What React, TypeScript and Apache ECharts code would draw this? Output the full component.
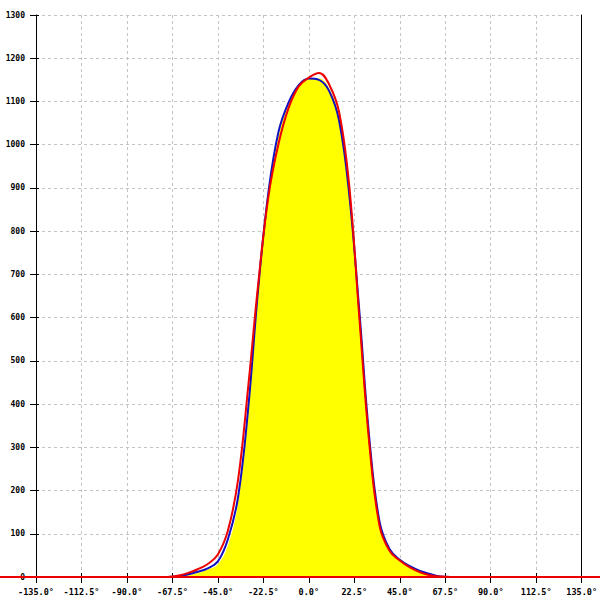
import React, { useEffect, useRef } from "react";
import * as echarts from "echarts";

const angles = [-70, -65, -60, -55, -50, -45, -40, -35, -30, -25, -20, -15, -10, -5, 0, 5, 10, 15, 20, 25, 30, 35, 40, 45, 50, 55, 60, 65, 70];
const yellowValues = [0, 0, 3, 8, 16, 28, 70, 165, 370, 650, 870, 1015, 1090, 1132, 1150, 1152, 1128, 1060, 885, 600, 300, 118, 58, 36, 20, 10, 3, 0, 0];
const blueValues = [0, 2, 6, 12, 20, 36, 88, 185, 390, 670, 890, 1030, 1098, 1138, 1153, 1150, 1125, 1055, 885, 615, 318, 128, 64, 40, 25, 14, 7, 1, 0];
const redValues = [0, 3, 9, 18, 30, 52, 108, 225, 440, 680, 880, 1002, 1085, 1135, 1155, 1166, 1140, 1075, 905, 600, 305, 118, 60, 38, 22, 11, 4, 1, 0];
const baselineX = [-1, 1];
const baselineY = [0, 0];

const xMin = -135;
const xMax = 135;
const xStep = 22.5;
const yMin = 0;
const yMax = 1300;
const yStep = 100;

const pair = (xs: number[], ys: number[]) => xs.map((x, i) => [x, ys[i]]);

export default function App() {
  const ref = useRef<HTMLDivElement>(null);
  useEffect(() => {
    if (!ref.current) return;
    const chart = echarts.init(ref.current, null, { renderer: "svg" });
    const font = { fontFamily: "DejaVu Sans Mono", fontSize: 8, fontWeight: "bold" as const, color: "#000" };
    const grid = { type: [3, 3], color: "#c4c4c4", width: 1 };
    const hiddenAxis = {
      show: false, axisLine: { show: false, onZero: false }, axisTick: { show: false },
      axisLabel: { show: false }, splitLine: { show: false },
    };
    chart.setOption({
      animation: false,
      grid: [
        { left: 36, right: 15, top: 15, bottom: 23, containLabel: false },
        { left: 0, right: 0, top: 15, bottom: 23, containLabel: false },
      ],
      xAxis: [
        {
          type: "value", gridIndex: 0, min: xMin, max: xMax, interval: xStep, position: "bottom",
          axisLine: { show: true, onZero: false, lineStyle: { color: "#000", width: 1 } },
          axisTick: { show: true, inside: false, length: 6, lineStyle: { color: "#000" } },
          axisLabel: { ...font, fontSize: 8.5, margin: 10, formatter: (v: number) => v.toFixed(1) + "°" },
          splitLine: { show: true, lineStyle: grid },
        },
        {
          type: "value", gridIndex: 0, min: xMin, max: xMax, interval: xStep, position: "bottom",
          axisLine: { show: false, onZero: false },
          axisTick: { show: true, inside: true, length: 4, lineStyle: { color: "#000" } },
          axisLabel: { show: false },
          splitLine: { show: false },
        },
        { type: "value", gridIndex: 1, min: -1, max: 1, ...hiddenAxis },
      ],
      yAxis: [
        {
          type: "value", gridIndex: 0, min: yMin, max: yMax, interval: yStep, position: "left",
          axisLine: { show: true, onZero: false, lineStyle: { color: "#000", width: 1 } },
          axisTick: { show: true, inside: false, length: 6, lineStyle: { color: "#000" } },
          axisLabel: { ...font, margin: 11, formatter: (v: number) => String(v) },
          splitLine: { show: true, lineStyle: grid },
        },
        {
          type: "value", gridIndex: 0, min: yMin, max: yMax, interval: yStep, position: "left",
          axisLine: { show: false, onZero: false },
          axisTick: { show: true, inside: true, length: 3, lineStyle: { color: "#000" } },
          axisLabel: { show: false },
          splitLine: { show: false },
        },
        {
          type: "value", gridIndex: 0, min: yMin, max: yMax, interval: yStep, position: "right",
          axisLine: { show: true, onZero: false, lineStyle: { color: "#000", width: 1 } },
          axisTick: { show: false },
          axisLabel: { show: false },
          splitLine: { show: false },
        },
        { type: "value", gridIndex: 1, min: yMin, max: yMax, ...hiddenAxis },
      ],
      series: [
        {
          name: "yellow", type: "line", xAxisIndex: 0, yAxisIndex: 0, data: pair(angles, yellowValues), smooth: 0.4,
          showSymbol: false, symbol: "none",
          lineStyle: { color: "#ffff00", width: 1 },
          areaStyle: { color: "#ffff00", opacity: 1 },
          z: 2,
        },
        {
          name: "blue", type: "line", xAxisIndex: 0, yAxisIndex: 0, data: pair(angles, blueValues), smooth: 0.4,
          showSymbol: false, symbol: "none",
          lineStyle: { color: "#1010c0", width: 2 },
          z: 3,
        },
        {
          name: "baseline", type: "line", xAxisIndex: 2, yAxisIndex: 3, data: pair(baselineX, baselineY),
          showSymbol: false, symbol: "none", clip: false,
          lineStyle: { color: "#ee0000", width: 2 },
          z: 4,
        },
        {
          name: "red", type: "line", xAxisIndex: 0, yAxisIndex: 0, data: pair(angles, redValues), smooth: 0.4,
          showSymbol: false, symbol: "none",
          lineStyle: { color: "#ee0000", width: 2 },
          z: 5,
        },
      ],
    });
    return () => chart.dispose();
  }, []);
  return <div ref={ref} style={{ position: "absolute", left: 0, top: 0, width: 600, height: 600 }} />;
}
